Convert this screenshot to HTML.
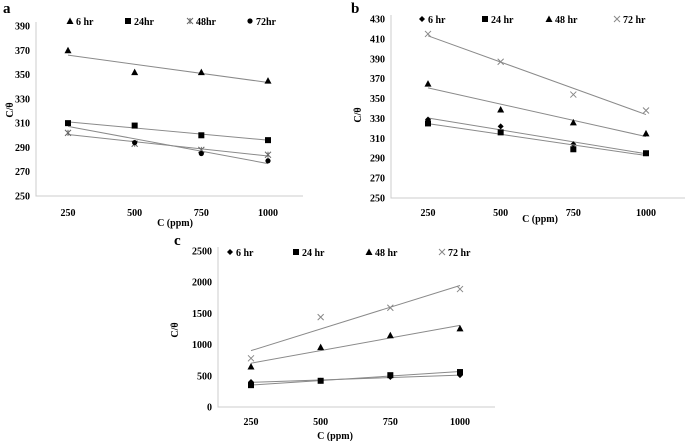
<!DOCTYPE html>
<html><head><meta charset="utf-8">
<style>
html,body{margin:0;padding:0;background:#fff;}
svg{display:block;font-family:"Liberation Serif",serif;font-weight:bold;}
</style></head>
<body>
<svg id="fig" width="685" height="441" viewBox="0 0 685 441" xmlns="http://www.w3.org/2000/svg"></svg>
<script>
const categories = [250, 500, 750, 1000];
// panel a
const aNames = ["6 hr", "24hr", "48hr", "72hr"];
const a6 = [370, 352, 352, 345];
const a24 = [310, 308, 300, 296];
const a48 = [302, 293, 288, 284];
const a72 = [310, 294, 285, 279];
const aTicks = [250, 270, 290, 310, 330, 350, 370, 390];
// panel b
const bNames = ["6 hr", "24 hr", "48 hr", "72 hr"];
const b6 = [329, 322, 304, 295];
const b24 = [325, 316, 299, 295];
const b48 = [365, 339, 326, 315];
const b72 = [415, 387, 354, 338];
const bTicks = [250, 270, 290, 310, 330, 350, 370, 390, 410, 430];
// panel c
const cNames = ["6 hr", "24 hr", "48 hr", "72 hr"];
const c6 = [400, 420, 480, 510];
const c24 = [350, 420, 510, 560];
const c48 = [650, 960, 1150, 1260];
const c72 = [780, 1440, 1590, 1890];
const cTicks = [0, 500, 1000, 1500, 2000, 2500];

const NS = "http://www.w3.org/2000/svg";
const svg = document.getElementById("fig");
function mk(tag, attrs, parent, text){
  const e = document.createElementNS(NS, tag);
  for (const k in attrs) e.setAttribute(k, attrs[k]);
  if (text !== undefined) e.textContent = text;
  (parent || svg).appendChild(e);
  return e;
}
function marker(g, type, x, y, color){
  let m;
  if (type === "tri") m = mk("polygon", {points:`${x},${y-3.5} ${x-3.5},${y+3} ${x+3.5},${y+3}`, fill:color}, g);
  else if (type === "sq") m = mk("rect", {x:x-3, y:y-3, width:6, height:6, fill:color}, g);
  else if (type === "dot") m = mk("circle", {cx:x, cy:y, r:2.6, fill:color}, g);
  else if (type === "dia") m = mk("polygon", {points:`${x},${y-3} ${x+3},${y} ${x},${y+3} ${x-3},${y}`, fill:color}, g);
  else if (type === "x") m = mk("path", {d:`M${x-3},${y-3}L${x+3},${y+3}M${x+3},${y-3}L${x-3},${y+3}`, stroke:color, "stroke-width":1}, g);
  else if (type === "star") m = mk("path", {d:`M${x-3},${y-3}L${x+3},${y+3}M${x+3},${y-3}L${x-3},${y+3}M${x},${y-3}L${x},${y+3}`, stroke:color, "stroke-width":1}, g);
  return m;
}
function fit(vals){
  const n = categories.length;
  const mx = categories.reduce((s,v)=>s+v,0)/n, my = vals.reduce((s,v)=>s+v,0)/n;
  let num=0, den=0;
  for (let i=0;i<n;i++){ num += (categories[i]-mx)*(vals[i]-my); den += (categories[i]-mx)**2; }
  const b = num/den; return [b, my - b*mx];
}
function panel(cfg){
  const g = mk("g", {});
  
  
  const ymin = cfg.ticks[0], ymax = cfg.ticks[cfg.ticks.length-1];
  const Y = v => cfg.yBot - (v - ymin) / (ymax - ymin) * (cfg.yBot - cfg.yTop);
  const X = c => cfg.x250 + (c - 250) / 750 * (cfg.x1000 - cfg.x250);
  const lbl = mk("text", {x:cfg.letter[0], y:cfg.letter[1], "font-size":15}, g, cfg.id);
  
  
  const ax = mk("path", {d:`M${cfg.axX},${cfg.yTop-4}V${cfg.yBot}H${cfg.axEnd}`, stroke:"#ccc", fill:"none", "stroke-width":1}, g);
  
  
  cfg.ticks.forEach(t => {
    const tl = mk("text", {x:cfg.axX-6, y:Y(t)+3.5, "font-size":10, "text-anchor":"end"}, g, t);
    
    
  });
  categories.forEach(c => {
    const tl = mk("text", {x:X(c), y:cfg.xlabY, "font-size":10, "text-anchor":"middle"}, g, c);
    
    
  });
  const xt = mk("text", {x:cfg.xTitle[0], y:cfg.xTitle[1], "font-size":10, "text-anchor":"middle"}, g, "C (ppm)");
  
  
  const yt = mk("text", {transform:`translate(${cfg.yTitle[0]},${cfg.yTitle[1]}) rotate(-90)`, "font-size":10, "text-anchor":"middle"}, g, "C/θ");
  
  
  cfg.series.forEach((s, i) => {
    const sg = mk("g", {}, g);
    
    
    const [b, a0] = fit(s.vals);
    const tr = mk("line", {x1:X(250), y1:Y(a0+b*250), x2:X(1000), y2:Y(a0+b*1000), stroke:"#8a8a8a", "stroke-width":1}, sg);
    
    
    s.vals.forEach((v, j) => {
      const m = marker(sg, s.type, X(categories[j]), Y(v), s.color);
      
      
    });
    const lx = cfg.legX[i], ly = cfg.legY;
    const lg = mk("g", {}, g);
    
    
    marker(lg, s.type, lx, ly - 3, s.color);
    mk("text", {x:lx + 6, y:ly + 1, "font-size":10}, lg, s.name);
  });
}
panel({id:"a", letter:[3,13], ticks:aTicks, yTop:26, yBot:196, axX:36, axEnd:303,
  x250:68, x1000:268, xlabY:216, xTitle:[175,226], yTitle:[13,110],
  legY:24, legX:[70,128,190,250],
  series:[
    {name:aNames[0], vals:a6, type:"tri", color:"#000"},
    {name:aNames[1], vals:a24, type:"sq", color:"#000"},
    {name:aNames[2], vals:a48, type:"star", color:"#666"},
    {name:aNames[3], vals:a72, type:"dot", color:"#000"}]});
panel({id:"b", letter:[351,13], ticks:bTicks, yTop:19, yBot:198, axX:391, axEnd:685,
  x250:428, x1000:646, xlabY:216, xTitle:[540,222], yTitle:[361,115],
  legY:22, legX:[422,485,549,617],
  series:[
    {name:bNames[0], vals:b6, type:"dia", color:"#000"},
    {name:bNames[1], vals:b24, type:"sq", color:"#000"},
    {name:bNames[2], vals:b48, type:"tri", color:"#000"},
    {name:bNames[3], vals:b72, type:"x", color:"#888"}]});
panel({id:"c", letter:[174,245], ticks:cTicks, yTop:251, yBot:407, axX:218, axEnd:495,
  x250:251, x1000:460, xlabY:425, xTitle:[335,439], yTitle:[178,330],
  legY:255, legX:[230,296,369,442],
  series:[
    {name:cNames[0], vals:c6, type:"dia", color:"#000"},
    {name:cNames[1], vals:c24, type:"sq", color:"#000"},
    {name:cNames[2], vals:c48, type:"tri", color:"#000"},
    {name:cNames[3], vals:c72, type:"x", color:"#888"}]});
</script>
</body></html>
